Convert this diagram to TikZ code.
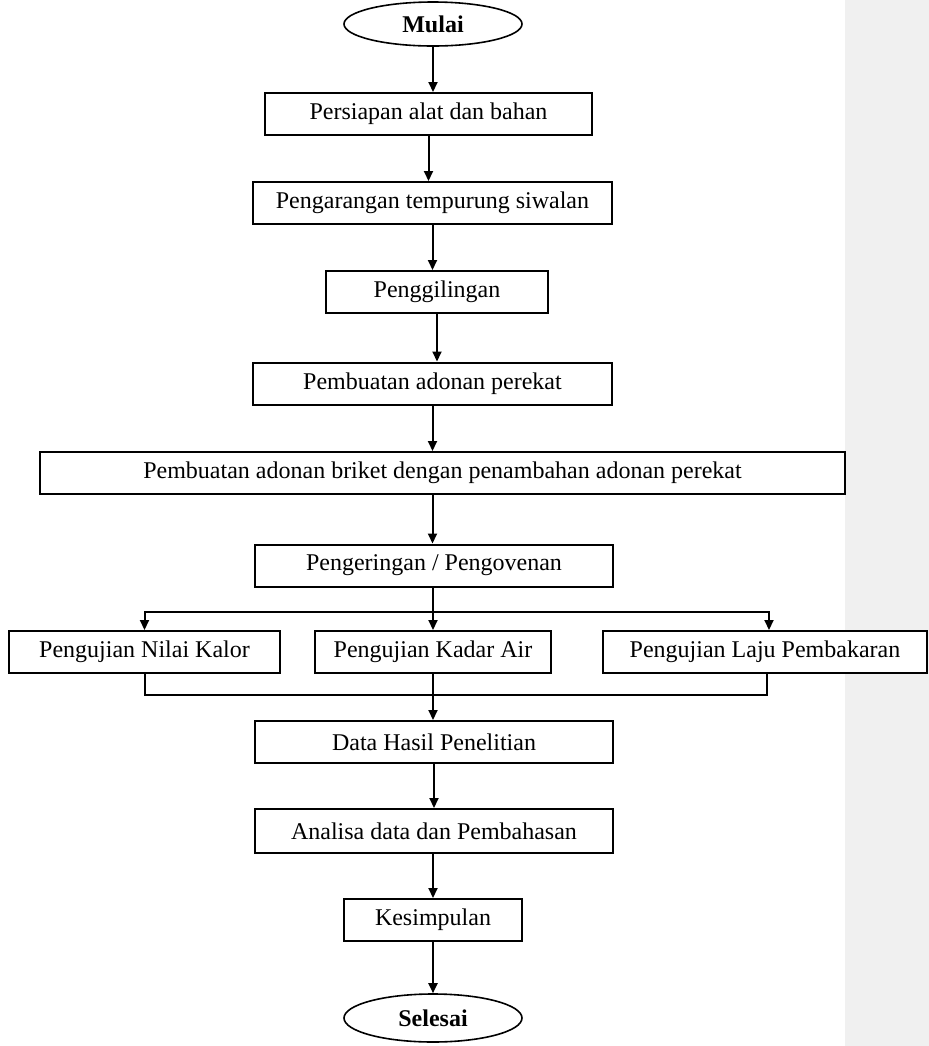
\documentclass[tikz,border=0pt]{standalone}
\usepackage{fontspec}
\setmainfont{Liberation Serif}
\usetikzlibrary{shapes.geometric,arrows.meta}

\definecolor{pinggir}{HTML}{F0F0F0}

\tikzset{
	langkah/.style={draw, line width=1pt, fill=white, minimum height=21pt, inner sep=0pt,
		font=\fontsize{12}{14}\selectfont},
	terminal/.style={draw, ellipse, line width=0.8pt, minimum width=89pt, minimum height=22pt,
		inner sep=0pt, font=\fontsize{12}{14}\selectfont\bfseries},
	panah/.style={line width=1pt, -{Triangle[length=5pt,width=4.5pt]}},
	garis/.style={line width=1pt}
}

\begin{document}
\begin{tikzpicture}[x=0.5pt, y=-0.5pt]
\useasboundingbox (0,0) rectangle (929,1046);
\fill[pinggir] (845,0) rectangle (929,1046);

\pgfmathsetmacro{\klTengah}{433}
\pgfmathsetmacro{\klCabang}{612}
\pgfmathsetmacro{\klGabung}{695}

\node[terminal] (mulai) at (\klTengah,24) {Mulai};
\node[langkah, minimum width=163.5pt] (alat) at (428.5,114) {Persiapan alat dan bahan};
\node[langkah, minimum width=179.5pt] (arang) at (432.5,203) {Pengarangan tempurung siwalan};
\node[langkah, minimum width=111pt] (giling) at (437,292) {Penggilingan};
\node[langkah, minimum width=179.5pt] (perekat) at (432.5,383.5) {Pembuatan adonan perekat};
\node[langkah, minimum width=402.5pt] (briket) at (442.5,473) {Pembuatan adonan briket dengan penambahan adonan perekat};
\node[langkah, minimum width=179pt] (oven) at (434,565.5) {Pengeringan / Pengovenan};

\node[langkah, minimum width=135.5pt] (kalor) at (144.5,652) {Pengujian Nilai Kalor};
\node[langkah, minimum width=118pt] (air) at (433,652) {Pengujian Kadar Air};
\node[langkah, minimum width=162pt] (laju) at (765,652) {Pengujian Laju Pembakaran};

\node[langkah, minimum width=179pt] (data) at (434,742) {Data Hasil Penelitian};
\node[langkah, minimum width=179pt, minimum height=22pt] (analisa) at (434,831) {Analisa data dan Pembahasan};
\node[langkah, minimum width=89pt] (simpul) at (\klTengah,920) {Kesimpulan};
\node[terminal, minimum height=24pt] (selesai) at (\klTengah,1018) {Selesai};

\coordinate (cabang) at (\klTengah,\klCabang);
\coordinate (gabung) at (\klTengah,\klGabung);

% alur utama
\draw[panah] (mulai) -- (mulai |- alat.north);
\draw[panah] (alat.south) -- (alat.south |- arang.north);
\draw[panah] (arang.south) -- (arang.south |- giling.north);
\draw[panah] (giling.south) -- (giling.south |- perekat.north);
\draw[panah] (perekat.south) -- (perekat.south |- briket.north);
\draw[panah] (perekat.south |- briket.south) -- (perekat.south |- oven.north);

% pengujian
\draw[panah] (oven.south -| air) -- (air);
\draw[panah] (cabang) -| (kalor);
\draw[panah] (cabang) -| ([xshift=2pt]laju.north);
\draw[garis] (kalor) |- (gabung) -| ([xshift=1pt]laju.south);
\draw[panah] (air) -- (air |- data.north);

\draw[panah] (data) -- (analisa);
\draw[panah] (analisa.south -| simpul) -- (simpul);
\draw[panah] (simpul) -- (selesai);
\end{tikzpicture}
\end{document}
